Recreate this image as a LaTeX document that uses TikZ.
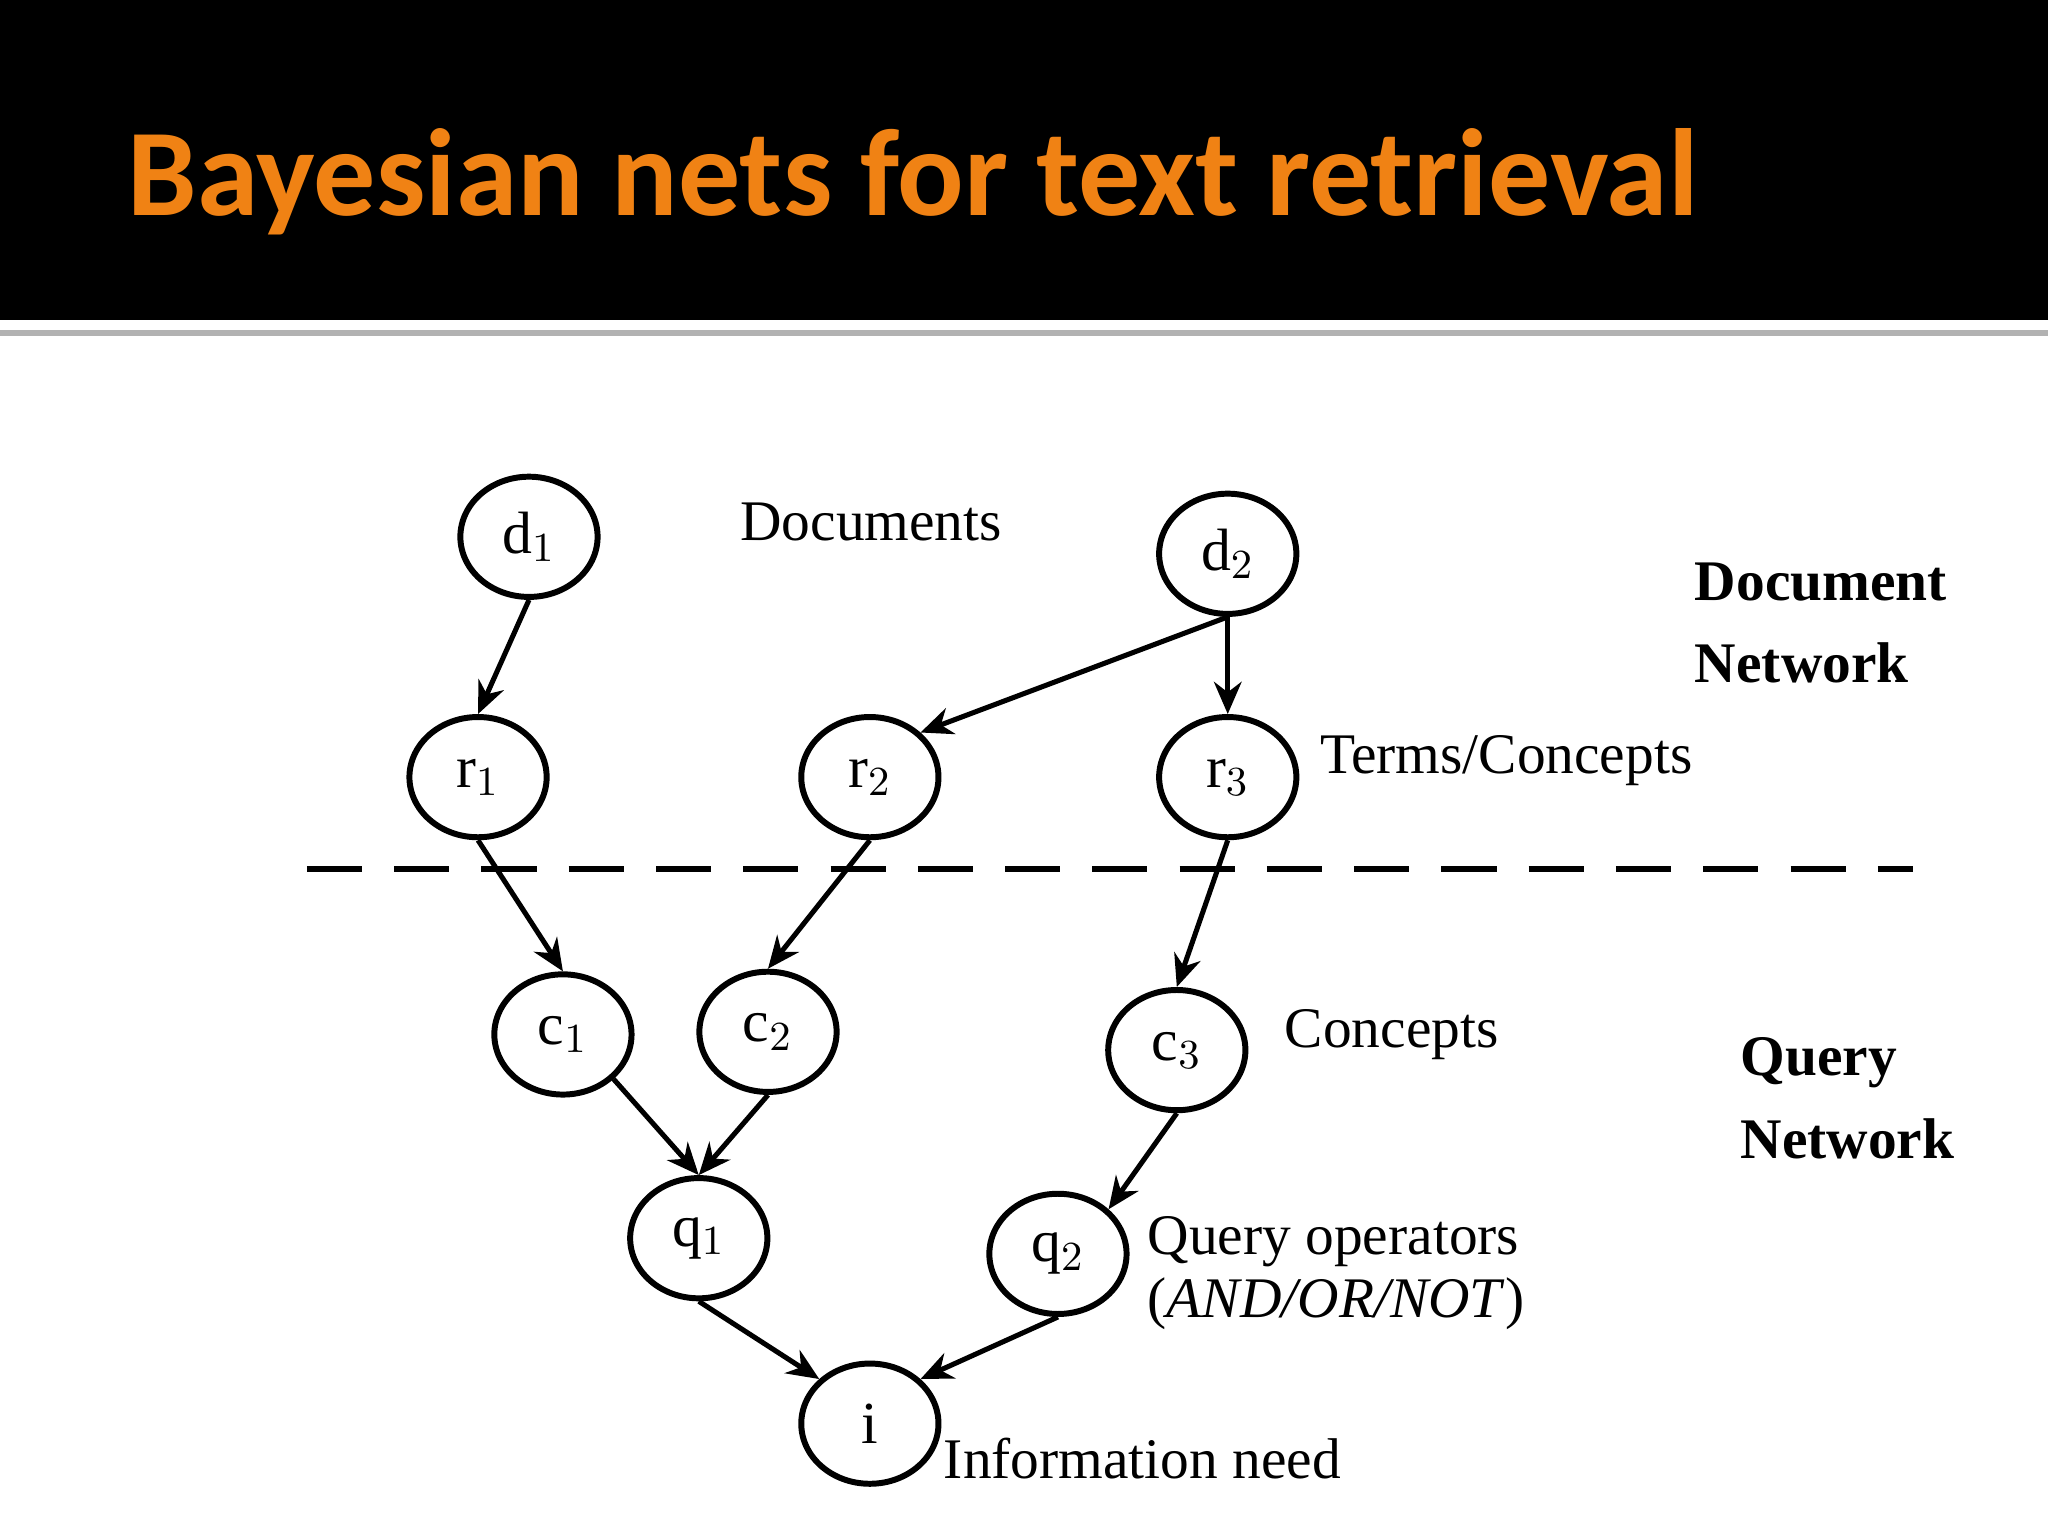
\documentclass[tikz,border=0pt]{standalone}
\usepackage{fontspec}
\setmainfont{Liberation Serif}
\newfontfamily\titlefont{Carlito}
\usetikzlibrary{shapes.geometric,arrows.meta}
\definecolor{ttl}{RGB}{240,130,20}
\begin{document}
\begin{tikzpicture}[x=0.01cm,y=-0.01cm,
  nd/.style={ellipse,draw,line width=1.3pt,minimum width=105\pgflinewidth*0+1.05cm,minimum height=0.92cm,inner sep=0pt,font=\fontsize{13}{15}\selectfont},
  ar/.style={line width=1.1pt,-{Stealth[length=7pt,width=6pt]}},
  lb/.style={font=\fontsize{12.5}{15}\selectfont,inner sep=0pt},
  bl/.style={font=\fontsize{12.5}{15}\selectfont\bfseries,inner sep=0pt,align=left}]
\useasboundingbox (0,0) rectangle (1568,1176);
\fill[white] (0,0) rectangle (1568,1176);
\fill[black] (0,0) rectangle (1568,245);
\fill[gray!60] (0,253) rectangle (1568,257);
\node[anchor=base west,inner sep=0pt,text=ttl,font=\titlefont\fontsize{27}{30}\selectfont\bfseries] (title) at (97,165) {Bayesian nets for text retrieval};
\node[nd] (d1) at (405,411) {d$_1$};
\node[nd] (d2) at (940,424) {d$_2$};
\node[nd] (r1) at (366,595) {r$_1$};
\node[nd] (r2) at (666,595) {r$_2$};
\node[nd] (r3) at (940,595) {r$_3$};
\node[nd] (c1) at (431,792) {c$_1$};
\node[nd] (c2) at (588,790) {c$_2$};
\node[nd] (c3) at (901,804) {c$_3$};
\node[nd] (q1) at (535,948) {q$_1$};
\node[nd] (q2) at (810,960) {q$_2$};
\node[nd] (i) at (666,1090) {i};
\coordinate (dl) at (235,665);
\coordinate (dr) at (1465,665);
\draw[line width=1.3pt,dash pattern=on 12pt off 7pt] (dl) -- (dr);
\draw[ar] (d1.south) -- (r1.north);
\draw[ar] (d2.south) -- (r2.north east);
\draw[ar] (d2.south) -- (r3.north);
\draw[ar] (r1.south) -- (c1.north);
\draw[ar] (r2.south) -- (c2.north);
\draw[ar] (r3.south) -- (c3.north);
\draw[ar] (c1.south east) -- (q1.north);
\draw[ar] (c2.south) -- (q1.north);
\draw[ar] (c3.south) -- (q2.north east);
\draw[ar] (q1.south) -- (i.north west);
\draw[ar] (q2.south) -- (i.north east);
\node[lb] (l1) at (667,400) {Documents};
\node[lb,anchor=west] (l2) at (1010,582) {Terms/Concepts};
\node[lb,anchor=west] (l3) at (983,792) {Concepts};
\node[lb,anchor=west] (l4) at (878,951) {Query operators};
\node[lb,anchor=west] (l5) at (878,998) {(\textit{AND/OR/NOT})};
\node[lb,anchor=west] (l6) at (722,1117) {Information need};
\node[bl,anchor=west] (b1) at (1297,477) {Document\\[3pt]Network};
\node[bl,anchor=west] (b2) at (1332,841) {Query\\[3pt]Network};
\end{tikzpicture}
\end{document}
